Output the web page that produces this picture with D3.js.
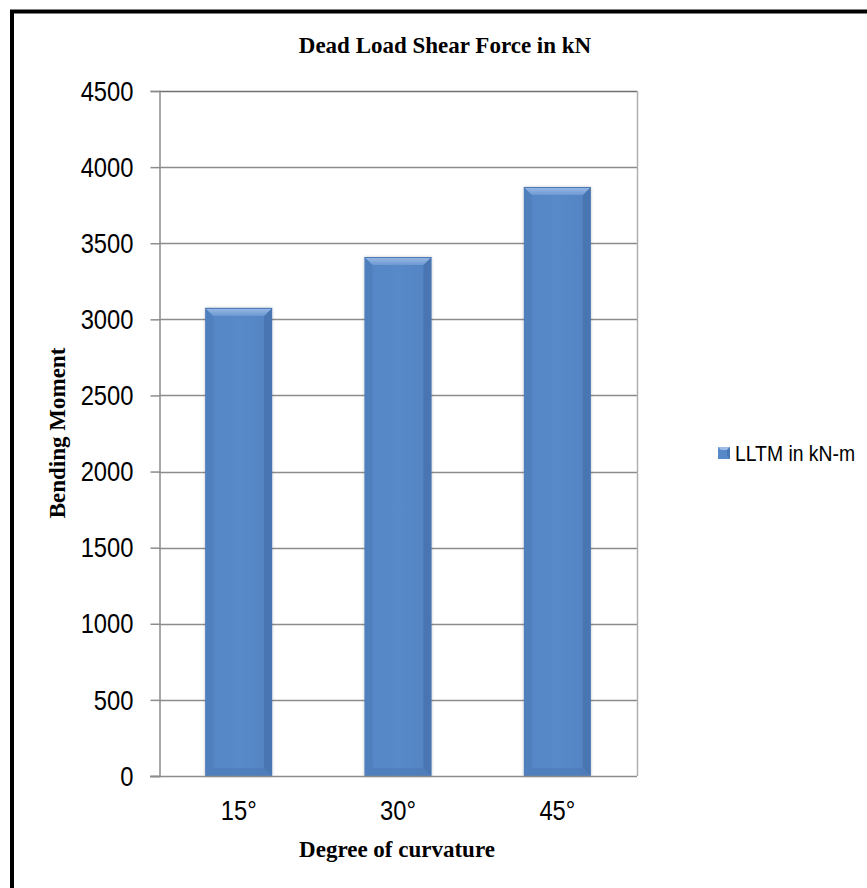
<!DOCTYPE html>
<html>
<head>
<meta charset="utf-8">
<script src="https://cdn.jsdelivr.net/npm/d3@7"></script>
<style>
  html, body { margin: 0; padding: 0; background: #fff; }
  svg { display: block; }
</style>
</head>
<body>
<script>
// Chart data
const categories = ["15°", "30°", "45°"];
const seriesName = "LLTM in kN-m";
const values = [3075, 3409, 3869];
const yTicks = [0, 500, 1000, 1500, 2000, 2500, 3000, 3500, 4000, 4500];

const W = 867, H = 888;
const plot = { left: 159, right: 637, top: 91, bottom: 776 };
const sansFont = "'Liberation Sans', Arial, sans-serif";
const serifFont = "'Liberation Serif', 'Times New Roman', serif";
const narrow = 0.88; // horizontal squeeze for the tick label face

const svg = d3.select("body").append("svg")
  .attr("width", W).attr("height", H);

const defs = svg.append("defs");
// Bevel shading for the bars
const gTop = defs.append("linearGradient").attr("id", "bevelTop")
  .attr("x1", 0).attr("y1", 0).attr("x2", 0).attr("y2", 1);
gTop.append("stop").attr("offset", 0).attr("stop-color", "#9dbce6");
gTop.append("stop").attr("offset", 1).attr("stop-color", "#6b98d2");
const gBody = defs.append("linearGradient").attr("id", "barBody")
  .attr("x1", 0).attr("y1", 0).attr("x2", 1).attr("y2", 0);
gBody.append("stop").attr("offset", 0).attr("stop-color", "#5585c4");
gBody.append("stop").attr("offset", 0.5).attr("stop-color", "#5889c8");
gBody.append("stop").attr("offset", 1).attr("stop-color", "#5483c2");
const shadow = defs.append("filter").attr("id", "shadow")
  .attr("x", "-20%").attr("y", "-5%").attr("width", "140%").attr("height", "110%");
shadow.append("feGaussianBlur").attr("in", "SourceAlpha").attr("stdDeviation", 1.5).attr("result", "b");
shadow.append("feComponentTransfer").attr("in", "b").attr("result", "b2")
  .append("feFuncA").attr("type", "linear").attr("slope", 0.25);
const merge = shadow.append("feMerge");
merge.append("feMergeNode").attr("in", "b2");
merge.append("feMergeNode").attr("in", "SourceGraphic");

// Outer frame (left and top visible)
svg.append("rect")
  .attr("x", 12).attr("y", 11.5).attr("width", W + 20).attr("height", H + 20)
  .attr("fill", "none").attr("stroke", "#000").attr("stroke-width", 4);

const x = d3.scaleBand().domain(categories).range([plot.left, plot.right]).paddingInner(0.58).paddingOuter(0.29);
const y = d3.scaleLinear().domain([0, 4500]).range([plot.bottom, plot.top]);

// Horizontal gridlines
svg.append("g").selectAll("line").data(yTicks.filter(d => d > 0)).join("line")
  .attr("x1", plot.left).attr("x2", plot.right)
  .attr("y1", d => Math.round(y(d)) + 0.5).attr("y2", d => Math.round(y(d)) + 0.5)
  .attr("stroke", d => d === 4500 ? "#6f6f6f" : "#8c8c8c").attr("stroke-width", 1.5);

// Right border of plot area
svg.append("line")
  .attr("x1", plot.right + 0.5).attr("x2", plot.right + 0.5)
  .attr("y1", plot.top).attr("y2", plot.bottom)
  .attr("stroke", "#b0b0b0").attr("stroke-width", 1.5);

// Y axis
const yAxis = svg.append("g").attr("transform", `translate(${plot.left + 0.5},0)`)
  .call(d3.axisLeft(y).tickValues(yTicks).tickSize(9).tickPadding(13).tickFormat(d3.format("d")));
yAxis.select(".domain").attr("stroke", "#8c8c8c").attr("stroke-width", 1.5);
yAxis.selectAll(".tick line").attr("stroke", "#8c8c8c").attr("stroke-width", 1.5);
yAxis.selectAll(".tick text")
  .attr("font-family", sansFont).attr("font-size", 27).attr("fill", "#000")
  .attr("x", -26 / narrow).attr("dy", "0.34em")
  .attr("transform", `scale(${narrow},1)`);

// Bars with bevel
const bev = 8;
const bars = svg.append("g").selectAll("g").data(values).join("g")
  .attr("filter", "url(#shadow)");
bars.each(function(v, i) {
  const g = d3.select(this);
  const x0 = x(categories[i]), w = x.bandwidth();
  const y0 = y(v), y1 = y(0);
  g.append("rect").attr("x", x0).attr("y", y0).attr("width", w).attr("height", y1 - y0)
    .attr("fill", "url(#barBody)");
  // left and right edges
  g.append("path").attr("d", `M${x0},${y0}L${x0 + bev},${y0 + bev}L${x0 + bev},${y1 - bev}L${x0},${y1}Z`)
    .attr("fill", "#4b79b6").attr("opacity", 0.5);
  g.append("path").attr("d", `M${x0 + w},${y0}L${x0 + w - bev},${y0 + bev}L${x0 + w - bev},${y1 - bev}L${x0 + w},${y1}Z`)
    .attr("fill", "#3f6aa4").attr("opacity", 0.55);
  // bottom edge
  g.append("path").attr("d", `M${x0},${y1}L${x0 + bev},${y1 - bev}L${x0 + w - bev},${y1 - bev}L${x0 + w},${y1}Z`)
    .attr("fill", "#4a78b4").attr("opacity", 0.55);
  // top edge
  g.append("path").attr("d", `M${x0},${y0}L${x0 + w},${y0}L${x0 + w - bev},${y0 + bev}L${x0 + bev},${y0 + bev}Z`)
    .attr("fill", "url(#bevelTop)");
  g.append("line").attr("x1", x0).attr("x2", x0 + w).attr("y1", y0 + 0.5).attr("y2", y0 + 0.5)
    .attr("stroke", "#4a78b5").attr("stroke-width", 1);
});

// Baseline
svg.append("line")
  .attr("x1", plot.left - 9).attr("x2", plot.right)
  .attr("y1", plot.bottom + 0.5).attr("y2", plot.bottom + 0.5)
  .attr("stroke", "#8c8c8c").attr("stroke-width", 1.5);

// X axis labels
const xAxis = svg.append("g").attr("transform", `translate(0,${plot.bottom})`)
  .call(d3.axisBottom(x).tickSize(0));
xAxis.select(".domain").remove();
xAxis.selectAll(".tick text")
  .attr("font-family", sansFont).attr("font-size", 27).attr("fill", "#000")
  .attr("y", 44).attr("dy", 0)
  .attr("transform", `scale(${narrow},1)`);

// Titles
svg.append("text").attr("x", 445).attr("y", 53).attr("text-anchor", "middle")
  .attr("font-family", serifFont).attr("font-weight", "bold")
  .attr("font-size", 23).text("Dead Load Shear Force in kN");
svg.append("text").attr("x", 397).attr("y", 857).attr("text-anchor", "middle")
  .attr("font-family", serifFont).attr("font-weight", "bold")
  .attr("font-size", 23).text("Degree of curvature");
svg.append("text").attr("transform", "translate(65,433) rotate(-90)").attr("text-anchor", "middle")
  .attr("font-family", serifFont).attr("font-weight", "bold")
  .attr("font-size", 23).text("Bending Moment");

// Legend
const lg = svg.append("g").attr("transform", "translate(718,453)");
lg.append("rect").attr("x", 0).attr("y", -6).attr("width", 12).attr("height", 12).attr("fill", "#5889c8");
lg.append("path").attr("d", "M0,-6L12,-6L9,-3L3,-3Z").attr("fill", "#9dbce6");
lg.append("path").attr("d", "M12,-6L12,6L9,3L9,-3Z").attr("fill", "#3f6aa4").attr("opacity", 0.6);
lg.append("text").attr("x", 17 / narrow).attr("y", 8)
  .attr("transform", `scale(${narrow},1)`)
  .attr("font-family", sansFont).attr("font-size", 22).text(seriesName);
</script>
</body>
</html>
